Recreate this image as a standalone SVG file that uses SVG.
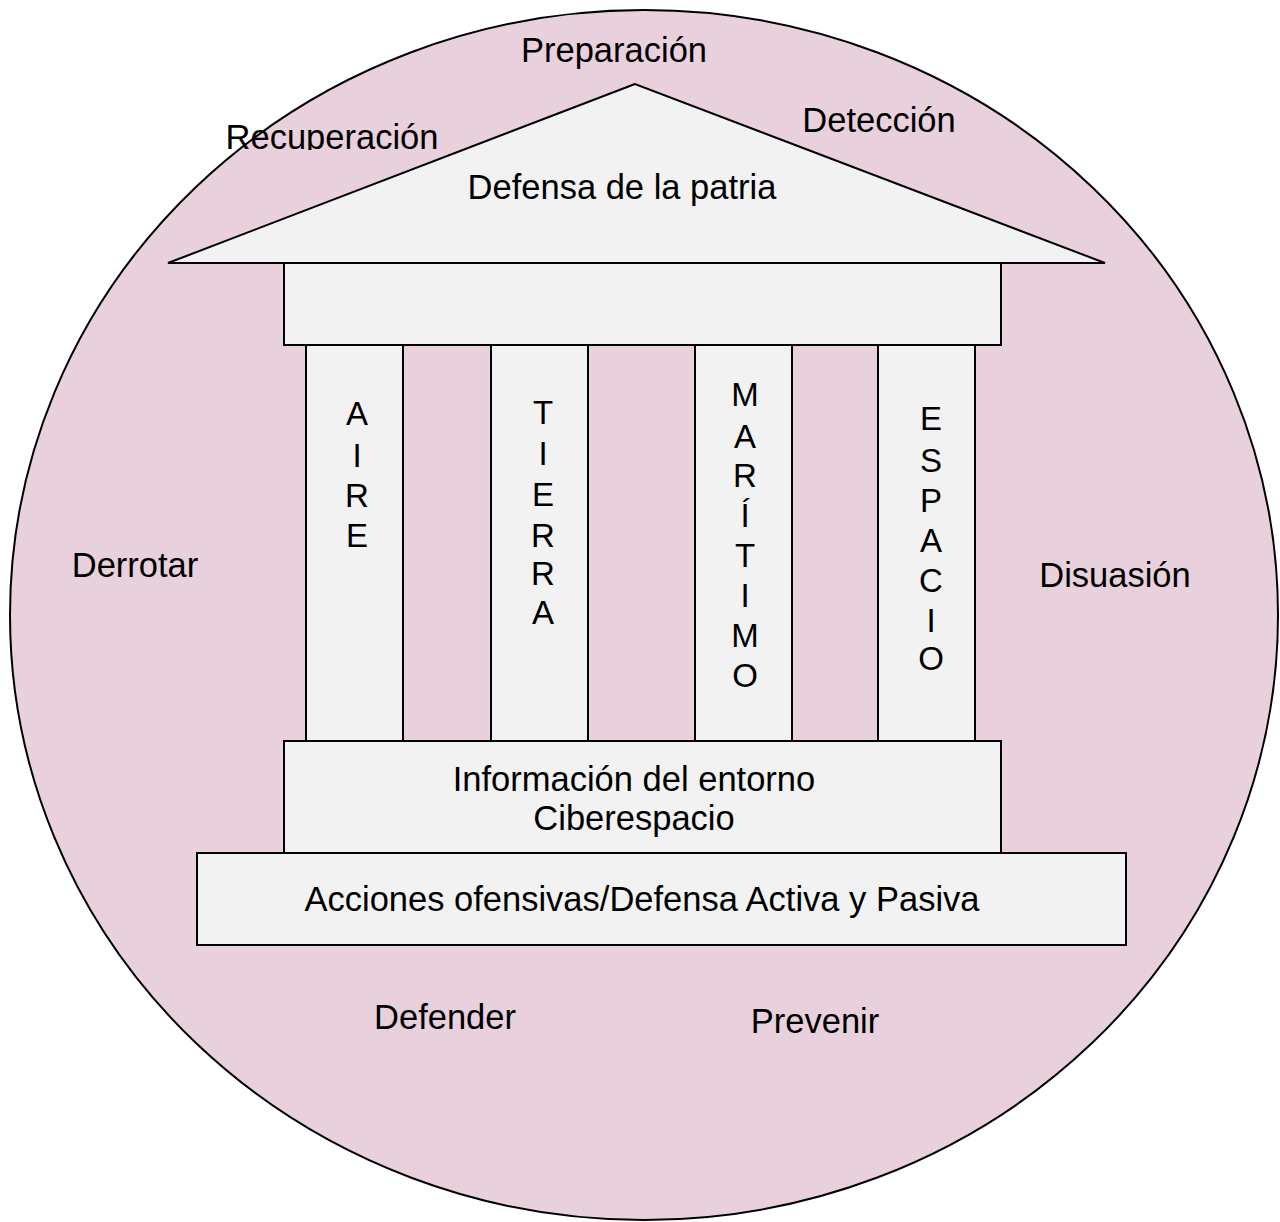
<svg xmlns="http://www.w3.org/2000/svg" width="1280" height="1222" viewBox="0 0 1280 1222">
<style>
.shape{fill:#f2f2f2;stroke:#000;stroke-width:2}
.t{font-family:"Liberation Sans",Arial,sans-serif;font-size:34.5px;fill:#000;text-anchor:middle}
.v{font-size:33px}
</style>
<defs>
<clipPath id="recClip"><rect x="200" y="100" width="260" height="50"/></clipPath>
</defs>
<rect width="1280" height="1222" fill="#fff"/>
<g id="circle"><ellipse cx="644" cy="615" rx="634" ry="605" fill="#e8d1dc" stroke="#000" stroke-width="2"/></g>
<g id="roof"><polygon class="shape" points="635,84 168,263 1105,263"/><text class="t" x="622" y="199">Defensa de la patria</text></g>
<g id="entablature"><rect class="shape" x="284" y="263" width="717" height="82"/></g>
<g id="col-aire"><rect class="shape" x="306" y="345" width="97" height="396"/>
<text class="t v"><tspan x="357" y="425">A</tspan><tspan x="357" y="467">I</tspan><tspan x="357" y="507">R</tspan><tspan x="357" y="547">E</tspan></text></g>
<g id="col-tierra"><rect class="shape" x="491" y="345" width="97" height="396"/>
<text class="t v"><tspan x="543" y="424">T</tspan><tspan x="543" y="465">I</tspan><tspan x="543" y="506">E</tspan><tspan x="543" y="547">R</tspan><tspan x="543" y="585">R</tspan><tspan x="543" y="624">A</tspan></text></g>
<g id="col-maritimo"><rect class="shape" x="695" y="345" width="97" height="396"/>
<text class="t v"><tspan x="745" y="406">M</tspan><tspan x="745" y="448">A</tspan><tspan x="745" y="487">R</tspan><tspan x="745" y="527">Í</tspan><tspan x="745" y="567">T</tspan><tspan x="745" y="607">I</tspan><tspan x="745" y="647">M</tspan><tspan x="745" y="687">O</tspan></text></g>
<g id="col-espacio"><rect class="shape" x="878" y="345" width="97" height="396"/>
<text class="t v"><tspan x="931" y="430">E</tspan><tspan x="931" y="472">S</tspan><tspan x="931" y="512">P</tspan><tspan x="931" y="552">A</tspan><tspan x="931" y="592">C</tspan><tspan x="931" y="632">I</tspan><tspan x="931" y="670">O</tspan></text></g>
<g id="base-info"><rect class="shape" x="284" y="741" width="717" height="112"/>
<text class="t"><tspan x="634" y="791">Información del entorno</tspan><tspan x="634" y="830">Ciberespacio</tspan></text></g>
<g id="base-acciones"><rect class="shape" x="197" y="853" width="929" height="92"/>
<text class="t" x="642" y="911">Acciones ofensivas/Defensa Activa y Pasiva</text></g>
<g id="lbl-preparacion"><text class="t" x="614" y="62">Preparación</text></g>
<g id="lbl-recuperacion" clip-path="url(#recClip)"><text class="t" x="332" y="149">Recuperación</text></g>
<g id="lbl-deteccion"><text class="t" x="879" y="132">Detección</text></g>
<g id="lbl-derrotar"><text class="t" x="135" y="577">Derrotar</text></g>
<g id="lbl-disuasion"><text class="t" x="1115" y="587">Disuasión</text></g>
<g id="lbl-defender"><text class="t" x="445" y="1029">Defender</text></g>
<g id="lbl-prevenir"><text class="t" x="815" y="1033">Prevenir</text></g>
<g id="connectors"></g>
</svg>
